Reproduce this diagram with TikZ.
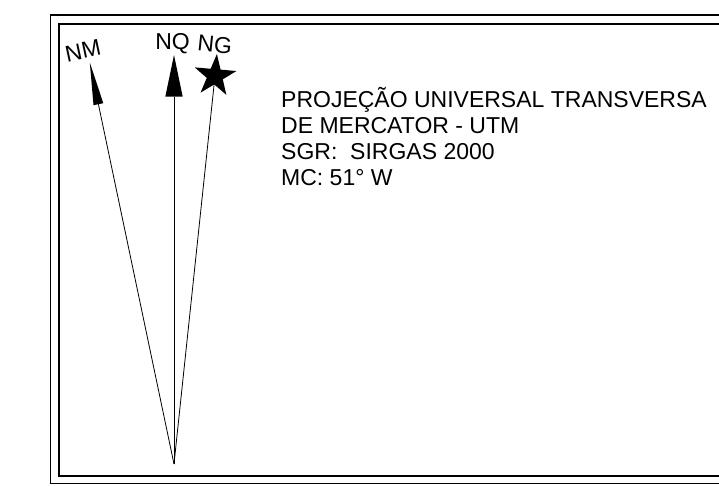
\documentclass[tikz,border=0pt]{standalone}
\usepackage{fontspec}
\setmainfont{Liberation Sans}
\usetikzlibrary{shapes.geometric}
\begin{document}
\begin{tikzpicture}[x=1pt,y=-1pt,
  lbl/.style={font=\fontsize{23}{26}\selectfont, inner sep=0pt},
  needle/.style={line width=0.8pt},
  outerframe/.style={line width=1.2pt},
  innerframe/.style={line width=2pt},
  headfill/.style={fill=black}]
\useasboundingbox (0,0) rectangle (719,485);
% frames
\draw[outerframe] (720,15) -- (50.7,15) -- (50.7,483.3) -- (720,483.3);
\draw[innerframe] (720,24) -- (59.3,24) -- (59.3,476) -- (720,476);
% coordinates
\coordinate (apex) at (174,464);
\coordinate (nqtip) at (174,55);
\coordinate (nqbase) at (174,96.7);
\coordinate (nqL) at (165.3,96.7);
\coordinate (nqR) at (182.7,96.7);
\coordinate (nmtip) at (89.8,62.5);
\coordinate (nmbase) at (98.4,104.2);
\coordinate (nmL) at (93.5,105.2);
\coordinate (nmR) at (103.3,103.2);
% needles
\draw[needle] (apex) -- (nqbase);
\draw[needle] (apex) -- (nmbase);
\fill[headfill] (nqtip) -- (nqL) -- (nqR) -- cycle;
\fill[headfill] (nmtip) -- (nmL) -- (nmR) -- cycle;
\node[star, star points=5, star point ratio=2.6, minimum size=44pt, inner sep=0pt, headfill, rotate=-5] (ngstar) at (215,76) {};
\draw[needle] (apex) -- (ngstar.center);
% labels
\node[lbl, anchor=base, rotate=12] (nm) at (84.5,58.5) {NM};
\node[lbl, anchor=base] (nq) at (172.5,49.5) {NQ};
\node[lbl, anchor=base, rotate=-6] (ng) at (214,52.5) {NG};
% legend text
\node[lbl, anchor=base west] (t1) at (281,107) {PROJEÇÃO UNIVERSAL TRANSVERSA};
\node[lbl, anchor=base west] (t2) at (281,133) {DE MERCATOR - UTM};
\node[lbl, anchor=base west] (t3) at (281,159) {SGR:\ \ SIRGAS 2000};
\node[lbl, anchor=base west] (t4) at (281,185) {MC: 51° W};
\end{tikzpicture}
\end{document}
